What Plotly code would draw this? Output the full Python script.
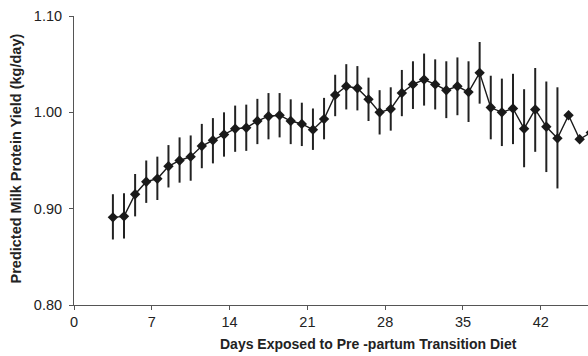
import plotly.graph_objects as go

days = [3.5, 4.5, 5.5, 6.5, 7.5, 8.5, 9.5, 10.5, 11.5, 12.5, 13.5, 14.5, 15.5, 16.5,
        17.5, 18.5, 19.5, 20.5, 21.5, 22.5, 23.5, 24.5, 25.5, 26.5, 27.5, 28.5, 29.5,
        30.5, 31.5, 32.5, 33.5, 34.5, 35.5, 36.5, 37.5, 38.5, 39.5, 40.5, 41.5, 42.5,
        43.5, 44.5, 45.5, 46.5]
protein = [0.891, 0.892, 0.915, 0.928, 0.931, 0.944, 0.950, 0.954, 0.965, 0.971, 0.977,
           0.983, 0.984, 0.991, 0.996, 0.997, 0.991, 0.988, 0.982, 0.993, 1.018, 1.027,
           1.025, 1.0135, 1.000, 1.0035, 1.020, 1.029, 1.034, 1.029, 1.023, 1.027, 1.021,
           1.041, 1.005, 1.000, 1.004, 0.983, 1.003, 0.985, 0.973, 0.997, 0.972, 0.979]
upper = [0.915, 0.916, 0.936, 0.950, 0.954, 0.966, 0.974, 0.976, 0.988, 0.994, 1.000,
         1.007, 1.008, 1.014, 1.020, 1.020, 1.0135, 1.010, 1.004, 1.015, 1.039, 1.050,
         1.048, 1.036, 1.023, 1.026, 1.044, 1.053, 1.061, 1.055, 1.053, 1.057, 1.053,
         1.073, 1.038, 1.035, 1.040, 1.024, 1.046, 1.032, 1.026, 0.997, 0.972, 0.979]
lower = [0.868, 0.869, 0.892, 0.906, 0.909, 0.922, 0.927, 0.929, 0.942, 0.947, 0.954,
         0.959, 0.960, 0.967, 0.972, 0.974, 0.967, 0.965, 0.961, 0.972, 0.996, 1.003,
         1.002, 0.991, 0.977, 0.981, 0.996, 1.0035, 1.007, 1.003, 0.994, 0.997, 0.990,
         1.009, 0.972, 0.965, 0.967, 0.943, 0.959, 0.938, 0.921, 0.997, 0.972, 0.979]

x_ticks = [0, 7, 14, 21, 28, 35, 42]
y_ticks = [0.80, 0.90, 1.00, 1.10]
y_tick_labels = ["0.80", "0.90", "1.00", "1.10"]

err_plus = [u - p for u, p in zip(upper, protein)]
err_minus = [p - l for p, l in zip(protein, lower)]

FONT = "Liberation Sans, Arial, sans-serif"

fig = go.Figure()
fig.add_trace(go.Scatter(
    x=days, y=protein, mode="lines+markers",
    line=dict(color="#1a1a1a", width=1.4),
    marker=dict(symbol="diamond", size=8, color="#1a1a1a"),
    error_y=dict(type="data", symmetric=False, array=err_plus, arrayminus=err_minus,
                 color="#222", thickness=2, width=0),
    cliponaxis=True,
    showlegend=False,
))

fig.update_layout(
    width=588, height=356,
    margin=dict(l=74, r=0, t=16, b=51),
    paper_bgcolor="white", plot_bgcolor="white",
    font=dict(family=FONT, size=14, color="#222"),
    xaxis=dict(range=[0, 46.25], tickvals=x_ticks, ticktext=[str(v) for v in x_ticks],
               showline=True, linecolor="#555", linewidth=1, ticks="outside",
               ticklen=4, tickcolor="#555", showgrid=False, zeroline=False,
               tickfont=dict(size=14.5, color="#222")),
    yaxis=dict(range=[0.80, 1.10], tickvals=y_ticks, ticktext=y_tick_labels,
               showline=True, linecolor="#555", linewidth=1, ticks="outside",
               ticklen=4, tickcolor="#555", showgrid=False, zeroline=False,
               ticklabelstandoff=4,
               tickfont=dict(size=14.5, color="#222")),
    annotations=[
        dict(text="<b>Days Exposed to Pre -partum Transition Diet</b>",
             xref="paper", yref="paper", x=0.572, y=0, yshift=-39,
             xanchor="center", yanchor="middle", showarrow=False,
             font=dict(size=14, color="#222")),
        dict(text="<b>Predicted Milk Protein Yield (kg/day)</b>",
             xref="paper", yref="paper", x=0, xshift=-59, y=0.5, yshift=2,
             xanchor="center", yanchor="middle", textangle=-90, showarrow=False,
             font=dict(size=14.5, color="#222")),
    ],
)

fig.write_html("out.html")
